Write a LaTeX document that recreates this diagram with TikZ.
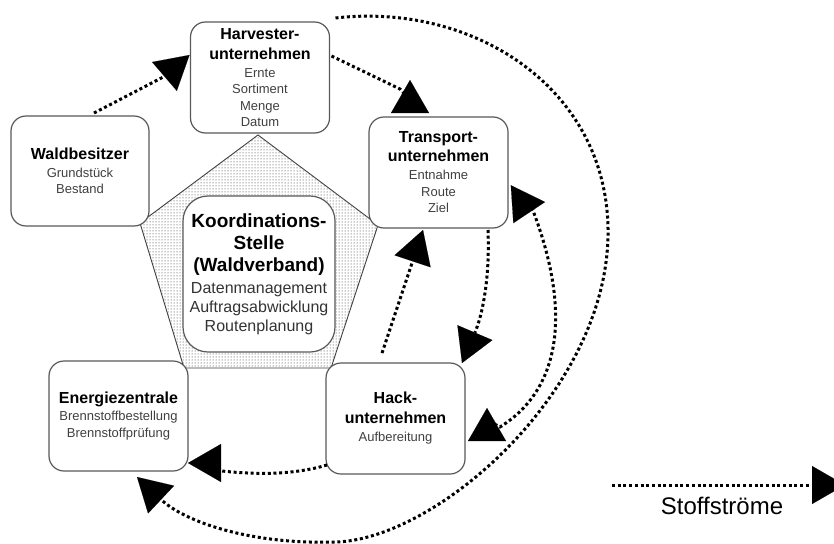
\documentclass[tikz,border=0pt]{standalone}
\usepackage{fontspec}
\setmainfont{Liberation Sans}
\usetikzlibrary{arrows.meta,calc,patterns}
\newcommand\ttl{\color{black}\fontsize{16}{20}\selectfont\bfseries}
\newcommand\itemf{\fontsize{13}{16.5}\selectfont}
\newcommand\kbig{\color{black}\fontsize{19}{22}\selectfont\bfseries}
\begin{document}
\begin{tikzpicture}[x=1pt,y=-1pt,
  box/.style={draw=black!65, line width=1.2pt, fill=white, rounded corners=15pt,
    inner sep=0pt, outer sep=0pt, align=center, text=black!75, font=\itemf,
    minimum width=139pt, minimum height=111pt},
  flow/.style={line width=3pt, dash pattern=on 3pt off 2.7pt,
    -{Triangle[length=33pt,width=38pt,line width=0.1pt]}},
  flowboth/.style={line width=3pt, dash pattern=on 3pt off 2.7pt,
    {Triangle[length=33pt,width=38pt,line width=0.1pt]}-{Triangle[length=33pt,width=38pt,line width=0.1pt]}}]
\useasboundingbox (0,0) rectangle (834,543);
\clip (0,0) rectangle (834,543);
\fill[white] (0,0) rectangle (834,543);

% pentagon
\coordinate (p1) at (258,135);
\coordinate (p2) at (378,225);
\coordinate (p3) at (331,368);
\coordinate (p4) at (184,368);
\coordinate (p5) at (140,223);
\draw[black!75, line width=0.9pt, pattern=dots, pattern color=black!85]
  (p1) -- (p2) -- (p3) -- (p4) -- (p5) -- cycle;

% boxes
\node[box] (harv) at (260,77.5) {{\ttl Harvester-}\\[3.5pt]{\ttl unternehmen}\\[1.5pt]Ernte\\Sortiment\\Menge\\Datum};
\node[box, minimum width=138pt, minimum height=110pt] (wald) at (80,171) {{\ttl Waldbesitzer}\\[1.5pt]Grundstück\\Bestand};
\node[box] (trans) at (438.5,172.5) {{\ttl Transport-}\\[2.5pt]{\ttl unternehmen}\\[1.5pt]Entnahme\\Route\\Ziel};
\node[box, minimum height=110pt] (energ) at (118.5,416) {{\ttl Energiezentrale}\\[0.5pt]Brennstoffbestellung\\Brennstoffprüfung};
\node[box] (hack) at (395.5,418.5) {{\ttl Hack-}\\[3.5pt]{\ttl unternehmen}\\[1.5pt]Aufbereitung};
\node[box, rounded corners=25pt, minimum width=152pt, minimum height=156pt,
  font=\fontsize{16}{19}\selectfont, text=black!80] (koord) at (259,274)
  {{\kbig Koordinations-}\\[3pt]{\kbig Stelle}\\[3pt]{\kbig (Waldverband)}\\[3pt]Datenmanagement\\Auftragsabwicklung\\Routenplanung};

% connectors
\draw[flow] ($(wald.north)+(14,-3)$) .. controls (125,97) and (165,76) .. ($(harv.north west)+(-1,33)$);
\draw[flow] ($(harv.north east)+(2,34)$) -- (400,89) -- (410,100) -- ($(trans.north)+(-28.5,-37)$);
\draw[flow] ($(harv.north east)+(6,-4)$) .. controls (475,2) and (610,90) .. (608,235)
  .. controls (606,395) and (430,545) .. (330,542)
  .. controls (250,544) and (185,522) .. ($(energ.south west)+(88,6)$);
\draw[flow] ($(trans.south east)+(-20,2)$) .. controls (490,280) and (482,316) .. ($(hack.north east)+(-3,0)$);
\draw[flow] ($(hack.north)+(-13.5,-10)$) -- ($(trans.south)+(-15.5,2)$);
\draw[flowboth] ($(trans.east)+(37,29.5)$) -- (530,203) .. controls (565,290) and (572,382) .. (500,427) -- (487,420) -- ($(hack.east)+(22,-10.5)$);
\draw[flow] ($(hack.south west)+(1,-9)$) .. controls (290,476) and (250,474) .. (222,471) -- (212,463) -- ($(energ.south east)+(0,-8)$);

% legend
\coordinate (lgS) at (612,485);
\coordinate (lgE) at (845,485);
\draw[flow] (lgS) -- (lgE);
\node[font=\fontsize{24}{28}\selectfont, inner sep=0pt] (lgT) at (722,505.5) {Stoffströme};
\end{tikzpicture}
\end{document}
